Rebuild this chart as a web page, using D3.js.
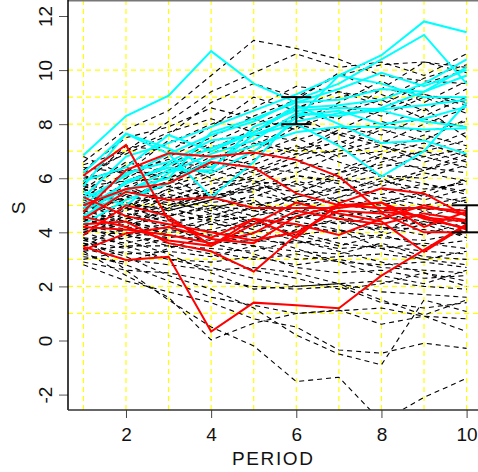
<!DOCTYPE html>
<html>
<head>
<meta charset="utf-8">
<script src="https://cdn.jsdelivr.net/npm/d3@7"></script>
<style>
  body { margin: 0; background: #fff; }
  svg { display: block; font-family: "Liberation Sans", Arial, sans-serif; }
</style>
</head>
<body>
<svg id="chart" width="478" height="472"></svg>
<script>
// periods on the x axis
const periods = [1, 2, 3, 4, 5, 6, 7, 8, 9, 10];

// black dashed trajectories
const blackSeries = [
  [6.6, 7.8, 8.5, 9.8, 11.1, 10.8, 10.4, 9.8, 9.6, 9.5],
  [5.9, 7.0, 8.1, 9.2, 9.9, 10.6, 10.1, 10.3, 9.8, 10.6],
  [6.2, 6.9, 7.6, 8.8, 9.5, 9.0, 9.8, 10.2, 10.3, 9.9],
  [5.5, 6.5, 7.3, 8.0, 8.6, 9.4, 9.2, 8.9, 9.7, 10.2],
  [5.8, 7.2, 7.0, 7.9, 9.0, 8.5, 8.2, 9.3, 9.1, 8.7],
  [5.2, 6.0, 6.8, 7.5, 8.3, 8.9, 9.9, 9.1, 8.5, 9.3],
  [6.4, 6.2, 7.4, 7.1, 7.8, 8.2, 8.7, 8.3, 9.0, 8.4],
  [4.9, 5.8, 6.4, 7.2, 7.0, 7.9, 8.4, 8.9, 8.2, 7.9],
  [5.6, 6.6, 6.2, 6.9, 7.6, 7.4, 7.9, 7.6, 8.3, 9.0],
  [5.0, 5.5, 6.6, 6.4, 7.2, 8.0, 7.6, 8.1, 7.7, 8.1],
  [4.7, 5.9, 6.0, 6.8, 6.5, 7.1, 7.3, 7.9, 8.6, 7.5],
  [5.4, 5.2, 5.9, 6.5, 7.3, 6.9, 7.0, 7.4, 7.1, 7.7],
  [4.5, 5.4, 5.7, 6.2, 6.9, 7.5, 6.8, 7.0, 7.6, 7.2],
  [6.0, 6.3, 6.0, 6.6, 6.2, 6.8, 7.4, 6.7, 7.0, 6.6],
  [4.2, 4.9, 5.6, 5.9, 6.4, 6.2, 6.9, 7.2, 6.6, 7.0],
  [5.1, 4.8, 5.3, 5.8, 6.0, 6.6, 6.3, 6.9, 7.3, 6.8],
  [4.8, 5.6, 5.2, 5.6, 5.9, 5.7, 6.2, 6.5, 6.4, 6.2],
  [3.9, 4.6, 5.0, 5.4, 5.5, 6.1, 5.8, 6.1, 6.0, 6.5],
  [5.3, 5.1, 4.8, 5.2, 5.7, 5.5, 6.0, 5.7, 6.2, 5.9],
  [4.4, 5.0, 5.4, 5.1, 5.3, 5.9, 5.5, 5.9, 5.6, 5.8],
  [4.6, 4.4, 4.9, 5.5, 5.0, 5.3, 5.6, 5.4, 5.8, 5.5],
  [5.7, 5.3, 5.1, 4.8, 5.4, 5.1, 5.3, 5.6, 5.2, 5.6],
  [4.0, 4.3, 4.6, 5.0, 4.8, 5.0, 5.2, 5.0, 5.4, 5.1],
  [4.3, 4.7, 4.4, 4.6, 5.1, 4.7, 4.9, 5.3, 5.0, 5.3],
  [5.0, 4.5, 4.7, 4.4, 4.6, 4.9, 4.6, 4.8, 4.9, 4.7],
  [3.7, 4.1, 4.3, 4.7, 4.4, 4.5, 4.8, 4.5, 4.6, 4.9],
  [4.1, 3.9, 4.2, 4.3, 4.2, 4.6, 4.3, 4.6, 4.3, 4.5],
  [4.7, 4.2, 4.0, 4.1, 4.5, 4.2, 4.4, 4.1, 4.4, 4.2],
  [3.5, 3.8, 4.1, 3.9, 4.0, 4.3, 4.0, 4.2, 4.1, 3.9],
  [4.5, 4.0, 3.8, 4.0, 3.8, 3.9, 4.1, 3.8, 3.7, 4.0],
  [3.8, 3.6, 3.9, 3.6, 3.7, 3.6, 3.8, 3.9, 3.5, 3.7],
  [5.5, 4.9, 4.5, 4.0, 4.3, 4.0, 3.6, 3.4, 3.6, 3.4],
  [3.3, 3.5, 3.5, 3.4, 3.3, 3.7, 3.4, 3.5, 3.3, 3.2],
  [4.8, 4.4, 3.9, 3.7, 3.5, 3.3, 3.2, 3.6, 3.1, 3.0],
  [3.6, 3.2, 3.3, 3.1, 3.5, 3.0, 3.1, 3.2, 3.0, 3.3],
  [4.3, 3.9, 3.6, 3.3, 3.0, 3.2, 2.9, 2.8, 2.9, 2.7],
  [3.0, 3.3, 3.0, 2.9, 3.1, 2.8, 3.0, 2.7, 2.6, 2.5],
  [5.2, 4.6, 4.2, 3.6, 3.2, 2.7, 2.5, 2.6, 2.3, 2.4],
  [3.4, 3.0, 2.8, 2.6, 2.7, 2.5, 2.1, 2.2, 2.0, 1.9],
  [4.0, 3.5, 3.0, 2.7, 2.3, 2.0, 2.1, 1.8, 1.7, 1.6],
  [2.9, 2.6, 2.5, 2.2, 2.0, 1.9, 2.0, 1.4, 1.2, 1.4],
  [3.2, 2.8, 2.2, 1.6, 1.3, 1.0, 1.1, 1.2, 0.9, 0.8],
  [3.8, 2.6, 1.5, 0.5, -0.2, -1.52, -1.36, -3.0, -2.1, -1.4],
  [3.3, 2.4, 1.6, 0.02, 0.64, 1.0, 1.13, 0.6, 0.9, 0.33],
  [2.8, 2.2, 1.8, 1.4, 0.8, 0.5, -0.35, -0.47, -0.1, -0.29],
  [3.6, 3.1, 2.4, 1.9, 1.2, 0.2, -0.5, -0.9, 1.5, 1.07],
  [4.2, 3.7, 3.2, 2.5, 1.9, 2.0, 2.1, 1.5, 0.94, 1.5],
  [5.6, 5.0, 4.9, 4.5, 4.1, 3.7, 3.3, 2.9, 2.5, 2.2],
  [6.8, 6.1, 5.7, 5.3, 5.7, 6.1, 5.9, 6.4, 6.8, 7.1],
  [5.9, 6.4, 6.0, 5.3, 4.8, 4.5, 4.9, 5.1, 5.5, 5.9],
  [4.9, 5.2, 5.8, 6.3, 5.9, 5.2, 4.6, 4.2, 3.9, 4.4],
  [3.9, 4.5, 5.2, 5.6, 6.3, 6.9, 7.7, 7.3, 8.0, 8.6],
  [4.4, 4.8, 5.5, 6.1, 6.7, 7.2, 6.6, 6.1, 5.8, 5.4],
  [5.3, 6.2, 6.7, 6.0, 5.6, 5.8, 5.1, 4.7, 4.4, 4.0],
  [6.1, 5.7, 5.2, 4.7, 4.3, 4.7, 5.3, 5.8, 6.3, 6.9],
  [4.6, 5.1, 4.6, 4.9, 4.4, 3.9, 3.5, 3.9, 4.3, 3.8],
  [3.5, 4.2, 4.9, 5.3, 5.8, 6.4, 6.0, 6.6, 7.0, 7.4],
  [5.0, 5.7, 6.3, 7.0, 7.7, 8.3, 7.6, 7.2, 6.8, 6.4],
  [6.3, 7.5, 7.9, 8.6, 8.2, 7.8, 8.8, 9.6, 8.8, 9.6],
  [4.1, 4.6, 5.3, 4.9, 5.2, 4.4, 4.1, 3.4, 3.0, 2.8],
  [5.7, 5.9, 6.5, 7.3, 8.0, 8.6, 9.2, 8.7, 9.5, 10.0],
  [4.8, 5.3, 5.9, 6.7, 7.4, 7.0, 7.8, 8.5, 9.1, 8.8],
  [3.7, 3.4, 3.8, 4.4, 3.9, 3.4, 2.9, 2.4, 2.1, 2.6],
  [5.4, 5.0, 5.6, 5.0, 4.6, 5.3, 5.7, 5.2, 4.8, 5.2],
  [4.5, 4.1, 4.8, 5.2, 5.6, 5.1, 5.5, 6.0, 5.3, 6.0],
  [3.1, 2.9, 3.4, 3.9, 3.6, 4.1, 4.5, 4.0, 4.8, 4.3],
  [5.8, 5.4, 5.0, 5.5, 6.1, 6.6, 7.1, 7.8, 7.4, 8.2],
  [4.0, 4.4, 4.1, 4.5, 4.9, 5.4, 6.2, 6.8, 6.3, 6.7],
  [6.5, 7.0, 7.7, 8.2, 7.7, 8.6, 9.0, 9.3, 10.3, 10.1],
  [3.4, 3.9, 3.5, 3.2, 2.6, 2.3, 1.9, 2.1, 2.5, 2.0]
];

// cyan trajectories
const cyanSeries = [
  [6.85, 8.3, 9.05, 10.7, 9.5, 8.8, 9.3, 9.9, 9.4, 10.0],
  [5.7, 7.65, 7.1, 6.4, 7.6, 8.2, 9.8, 10.55, 11.8, 11.4],
  [5.2, 6.1, 6.9, 7.6, 8.1, 8.9, 9.5, 10.4, 11.3, 9.5],
  [4.9, 5.8, 6.5, 7.1, 7.7, 8.6, 8.7, 8.9, 9.5, 10.4],
  [5.5, 5.0, 6.2, 6.9, 7.4, 8.4, 8.3, 8.6, 9.2, 10.1],
  [4.6, 5.5, 6.3, 6.3, 7.9, 8.5, 8.6, 8.55, 8.7, 8.9],
  [6.2, 7.65, 6.9, 5.3, 6.6, 8.3, 8.5, 8.0, 8.2, 8.65],
  [4.3, 5.2, 5.8, 6.7, 7.2, 7.7, 7.9, 7.9, 7.8, 7.85],
  [5.0, 6.2, 6.6, 7.4, 7.6, 8.0, 7.2, 6.06, 7.0, 8.8],
  [5.9, 6.4, 7.6, 7.0, 7.7, 8.7, 8.0, 7.3, 7.4, 6.9],
  [4.8, 5.6, 6.0, 7.7, 8.2, 8.8, 8.9, 9.3, 9.2, 9.8],
  [5.3, 6.8, 7.3, 7.9, 8.5, 9.1, 9.8, 9.5, 9.0, 9.0],
  [4.5, 5.9, 6.4, 6.2, 7.0, 8.1, 8.4, 8.5, 8.1, 7.9]
];

// red trajectories
const redSeries = [
  [6.1, 7.23, 4.45, 3.75, 3.6, 4.6, 5.0, 4.9, 4.55, 4.4],
  [4.3, 4.4, 3.6, 3.3, 2.55, 3.9, 5.0, 5.1, 4.5, 4.15],
  [4.76, 6.3, 6.92, 6.8, 6.95, 6.68, 6.06, 4.76, 4.6, 4.1],
  [3.47, 2.98, 3.1, 0.33, 1.4, 1.3, 1.19, 2.4, 3.35, 4.3],
  [3.35, 3.96, 4.2, 3.8, 4.5, 3.8, 5.07, 5.63, 5.44, 4.6],
  [5.0, 5.6, 5.81, 6.6, 6.4, 5.44, 5.0, 4.9, 4.9, 4.8],
  [4.58, 4.2, 3.7, 3.5, 4.3, 5.1, 4.7, 4.4, 3.28, 4.27],
  [4.2, 4.1, 3.9, 3.6, 3.97, 4.8, 4.5, 4.3, 4.7, 4.45],
  [3.9, 5.0, 4.6, 3.5, 4.5, 4.3, 3.9, 4.5, 5.0, 4.64],
  [5.3, 4.6, 4.3, 4.0, 3.7, 4.0, 4.8, 4.7, 4.0, 4.0],
  [4.5, 5.5, 5.2, 5.3, 4.9, 4.9, 4.9, 5.1, 4.2, 4.76]
];

// error bars: period, low, high
const errorBars = [
  { period: 6, low: 8, high: 9 },
  { period: 10, low: 4, high: 5 }
];

const gridX = [1, 2, 3, 4, 5, 6, 7, 8, 9, 10];
const gridY = [1, 2, 3, 4, 5, 6, 7, 8, 9, 10];
const xTicks = [2, 4, 6, 8, 10];
const yTicks = [-2, 0, 2, 4, 6, 8, 10, 12];

const svg = d3.select('#chart');
const plot = { left: 68, right: 478, top: 0, bottom: 410 };

const x = d3.scaleLinear().domain([1, 10]).range([83.4, 466.6]);
const y = d3.scaleLinear().domain([0, 12]).range([340.5, 16]);

svg.append('clipPath').attr('id', 'clip')
  .append('rect')
  .attr('x', plot.left).attr('y', plot.top)
  .attr('width', plot.right - plot.left).attr('height', plot.bottom - plot.top);

const g = svg.append('g').attr('clip-path', 'url(#clip)');

// yellow grid
gridX.forEach((v) => {
  g.append('line')
    .attr('x1', x(v)).attr('x2', x(v))
    .attr('y1', plot.top).attr('y2', plot.bottom)
    .attr('stroke', '#ffff00').attr('stroke-width', 1.2)
    .attr('stroke-dasharray', '5,4');
});
gridY.forEach((v) => {
  g.append('line')
    .attr('x1', plot.left).attr('x2', plot.right)
    .attr('y1', y(v)).attr('y2', y(v))
    .attr('stroke', '#ffff00').attr('stroke-width', 1.2)
    .attr('stroke-dasharray', '5,4');
});

const line = d3.line()
  .x((d, i) => x(periods[i]))
  .y((d) => y(d));

blackSeries.forEach((s) => {
  g.append('path')
    .attr('d', line(s))
    .attr('fill', 'none')
    .attr('stroke', '#000')
    .attr('stroke-width', 1.1)
    .attr('stroke-dasharray', '5,4');
});

cyanSeries.forEach((s) => {
  g.append('path')
    .attr('d', line(s))
    .attr('fill', 'none')
    .attr('stroke', '#00ffff')
    .attr('stroke-width', 2);
});

redSeries.forEach((s) => {
  g.append('path')
    .attr('d', line(s))
    .attr('fill', 'none')
    .attr('stroke', '#ff0000')
    .attr('stroke-width', 2);
});

// error bars
errorBars.forEach((e) => {
  const cx = x(e.period);
  const bar = g.append('g').attr('stroke', '#000').attr('stroke-width', 2);
  bar.append('line').attr('x1', cx).attr('x2', cx).attr('y1', y(e.low)).attr('y2', y(e.high));
  bar.append('line').attr('x1', cx - 15).attr('x2', cx + 15).attr('y1', y(e.low)).attr('y2', y(e.low));
  bar.append('line').attr('x1', cx - 15).attr('x2', cx + 15).attr('y1', y(e.high)).attr('y2', y(e.high));
});

// frame
svg.append('line')
  .attr('x1', plot.left).attr('x2', plot.right)
  .attr('y1', 0.5).attr('y2', 0.5)
  .attr('stroke', '#777').attr('stroke-width', 2);

// axes
const yAxis = svg.append('g')
  .attr('transform', `translate(${plot.left},0)`)
  .call(d3.axisLeft(y).tickValues(yTicks).tickFormat((d) => String(d)).tickSize(9).tickSizeOuter(0));
yAxis.select('.domain').remove();
yAxis.selectAll('.tick line').attr('stroke', '#555');
yAxis.selectAll('.tick text')
  .attr('x', 0).attr('y', 0).attr('dy', 0)
  .attr('transform', 'translate(-16,0) rotate(-90)')
  .attr('text-anchor', 'middle')
  .attr('font-size', 19)
  .attr('font-family', '"Liberation Sans", Arial, sans-serif')
  .attr('fill', '#111');

svg.append('line')
  .attr('x1', plot.left).attr('x2', plot.left)
  .attr('y1', 0).attr('y2', plot.bottom)
  .attr('stroke', '#000').attr('stroke-width', 1.5);

const xAxis = svg.append('g')
  .attr('transform', `translate(0,${plot.bottom})`)
  .call(d3.axisBottom(x).tickValues(xTicks).tickFormat((d) => String(d)).tickSize(8).tickSizeOuter(0));
xAxis.select('.domain').remove();
xAxis.selectAll('.tick line').attr('stroke', '#444');
xAxis.selectAll('.tick text')
  .attr('y', 31).attr('dy', 0)
  .attr('font-size', 19)
  .attr('font-family', '"Liberation Sans", Arial, sans-serif')
  .attr('fill', '#111');

svg.append('line')
  .attr('x1', plot.left).attr('x2', plot.right)
  .attr('y1', plot.bottom).attr('y2', plot.bottom)
  .attr('stroke', '#333').attr('stroke-width', 1.5);

// axis titles
svg.append('text')
  .attr('x', 272.5).attr('y', 465)
  .attr('text-anchor', 'middle')
  .attr('font-size', 19)
  .attr('textLength', 81)
  .attr('lengthAdjust', 'spacing')
  .attr('fill', '#111')
  .text('PERIOD');

svg.append('text')
  .attr('transform', 'translate(25,208) rotate(-90)')
  .attr('text-anchor', 'middle')
  .attr('font-size', 19)
  .attr('fill', '#111')
  .text('S');
</script>
</body>
</html>
